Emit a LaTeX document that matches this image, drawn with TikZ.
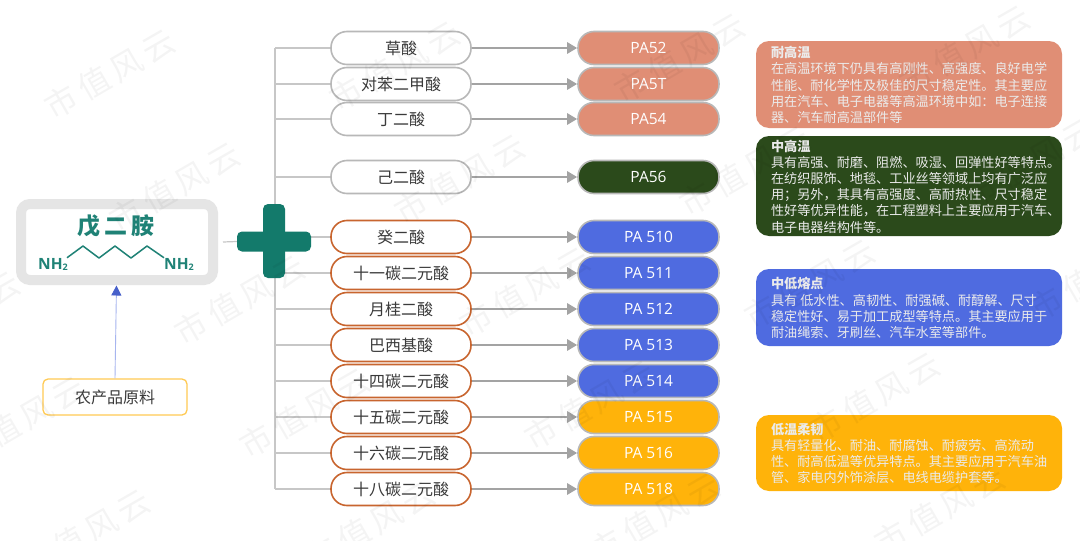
\documentclass[tikz,border=0pt]{standalone}
\usepackage{fontspec}
\setmainfont{Noto Sans CJK SC}
\newfontfamily\pafont{Open Sans}
\usetikzlibrary{arrows.meta}
\definecolor{salmon}{HTML}{E08E75}
\definecolor{forest}{HTML}{2B4A1B}
\definecolor{azure}{HTML}{4F6BE0}
\definecolor{amber}{HTML}{FFB30A}
\definecolor{teal1}{HTML}{137A6B}
\definecolor{teal2}{HTML}{1F8276}
\definecolor{edgegray}{HTML}{B8B8B8}
\definecolor{rust}{HTML}{C8652F}
\definecolor{txt}{HTML}{3A3A3A}
\tikzset{
  x=1pt,y=-1pt,
  acid/.style={draw=edgegray,line width=1.6pt,fill=white,rounded corners=16pt,minimum width=140pt,minimum height=33pt,inner sep=0pt,text=txt,font=\fontsize{16}{18}\selectfont},
  acidb/.style={acid,draw=rust},
  pa/.style={draw=edgegray,line width=1.6pt,rounded corners=16pt,minimum width=141pt,minimum height=33pt,inner sep=0pt,text=white,font=\pafont\fontsize{15.5}{18}\selectfont},
  info/.style={rounded corners=13pt,minimum width=306pt,inner sep=0pt},
  infotext/.style={align=left,inner sep=0pt,anchor=west,xshift=15pt,yshift=-0.5pt,text=white!92!black,font=\fontsize{13.15}{16.2}\selectfont},
  branch/.style={draw=black!22,line width=1.2pt},
  flow/.style={draw=black!36,line width=2.8pt,-{Triangle[length=10pt,width=11pt]}},
  wm/.style={rotate=30,text=black,opacity=0.045,font=\fontsize{32}{34}\selectfont,inner sep=0pt},
}
\newcommand{\wmark}[3]{\node[wm] (#1) at (#2+55,#3-26) {市\,值\,风\,云};}
\begin{document}
\begin{tikzpicture}
\useasboundingbox (0,0) rectangle (1080,541);
\fill[white] (0,0) rectangle (1080,541);

% trunk
\coordinate (tktop) at (275,48);
\coordinate (tkbot) at (275,489);
\draw[branch] (tktop) -- (tkbot);

% acids and products
\node[acid] (a1) at (401,48) {草酸};
\node[acid] (a2) at (401,84) {对苯二甲酸};
\node[acid] (a3) at (401,119) {丁二酸};
\node[acid] (a4) at (401,177) {己二酸};
\node[acidb] (a5) at (401,237) {癸二酸};
\node[acidb] (a6) at (401,273) {十一碳二元酸};
\node[acidb] (a7) at (401,309) {月桂二酸};
\node[acidb] (a8) at (401,345) {巴西基酸};
\node[acidb] (a9) at (401,381) {十四碳二元酸};
\node[acidb] (a10) at (401,417) {十五碳二元酸};
\node[acidb] (a11) at (401,453) {十六碳二元酸};
\node[acidb] (a12) at (401,489) {十八碳二元酸};

\node[pa,fill=salmon] (p1) at (648.5,48) {PA52};
\node[pa,fill=salmon] (p2) at (648.5,84) {PA5T};
\node[pa,fill=salmon] (p3) at (648.5,119) {PA54};
\node[pa,fill=forest] (p4) at (648.5,177) {PA56};
\node[pa,fill=azure] (p5) at (648.5,237) {PA 510};
\node[pa,fill=azure] (p6) at (648.5,273) {PA 511};
\node[pa,fill=azure] (p7) at (648.5,309) {PA 512};
\node[pa,fill=azure] (p8) at (648.5,345) {PA 513};
\node[pa,fill=azure] (p9) at (648.5,381) {PA 514};
\node[pa,fill=amber] (p10) at (648.5,417) {PA 515};
\node[pa,fill=amber] (p11) at (648.5,453) {PA 516};
\node[pa,fill=amber] (p12) at (648.5,489) {PA 518};

\foreach \i in {1,...,12}{
  \draw[branch] (tktop |- a\i.west) -- (a\i.west);
  \draw[flow] (a\i.east) -- (p\i.west);
}

% main box
\node[draw=black!10,line width=10pt,rounded corners=9pt,minimum width=192pt,minimum height=76pt,inner sep=0pt,fill=white] (main) at (117,242) {};
\node[text=teal2,font=\bfseries\fontsize{23}{25}\selectfont,inner sep=0pt] (title) at (116,226) {戊\,二\,胺};
\node[text=teal2,font=\pafont\bfseries\fontsize{15.5}{15}\selectfont,inner sep=0pt] (nl) at (53,264) {NH\raisebox{-1pt}{\fontsize{9}{9}\selectfont 2}};
\node[text=teal2,font=\pafont\bfseries\fontsize{15.5}{15}\selectfont,inner sep=0pt] (nr) at (179,264) {NH\raisebox{-1pt}{\fontsize{9}{9}\selectfont 2}};
\draw[teal2,line width=1.5pt,line join=round] (nl.north east) ++(-1,0) -- (83,246) -- (99,258) -- (115,246) -- (131,258) -- (147,246) -- (nr.north west);

% plus
\node[fill=teal1,rounded corners=5pt,minimum width=22pt,minimum height=74pt,inner sep=0pt] (plusv) at (274,241) {};
\node[fill=teal1,rounded corners=5pt,minimum width=74pt,minimum height=20pt,inner sep=0pt] (plush) at (274,241.5) {};
\draw[branch] (main.east) ++(5,0) -- (plush.west);

% raw material
\node[draw=amber!70,line width=1.3pt,rounded corners=5pt,minimum width=144pt,minimum height=36pt,inner sep=0pt,fill=white,text=txt,font=\fontsize{16}{18}\selectfont] (raw) at (115,397) {农产品原料};
\draw[draw=azure!50,line width=0.9pt,-{Triangle[length=10pt,width=10pt,color=azure!90!black]}] (raw.north) -- (116.5,285.5);

% info boxes
\node[info,fill=salmon,minimum height=87pt] (i1) at (909,84.5) {};
\node[infotext] (t1) at (i1.west) {{\bfseries 耐高温}\\在高温环境下仍具有高刚性、高强度、良好电学\\性能、耐化学性及极佳的尺寸稳定性。其主要应\\用在汽车、电子电器等高温环境中如：电子连接\\器、汽车耐高温部件等};
\node[info,fill=forest,minimum height=100pt] (i2) at (909,186) {};
\node[infotext] (t2) at (i2.west) {{\bfseries 中高温}\\具有高强、耐磨、阻燃、吸湿、回弹性好等特点。\\在纺织服饰、地毯、工业丝等领域上均有广泛应\\用；另外，其具有高强度、高耐热性、尺寸稳定\\性好等优异性能，在工程塑料上主要应用于汽车、\\电子电器结构件等。};
\node[info,fill=azure,minimum height=77pt] (i3) at (909,307.5) {};
\node[infotext] (t3) at (i3.west) {{\bfseries 中低熔点}\\具有 低水性、高韧性、耐强碱、耐醇解、尺寸\\稳定性好、易于加工成型等特点。其主要应用于\\耐油绳索、牙刷丝、汽车水室等部件。};
\node[info,fill=amber,minimum height=76pt] (i4) at (909,453) {};
\node[infotext] (t4) at (i4.west) {{\bfseries 低温柔韧}\\具有轻量化、耐油、耐腐蚀、耐疲劳、高流动\\性、耐高低温等优异特点。其主要应用于汽车油\\管、家电内外饰涂层、电线电缆护套等。};

% watermark
\wmark{w1}{55}{100}\wmark{w2}{340}{92}\wmark{w3}{625}{84}\wmark{w4}{910}{76}
\wmark{w5}{120}{213}\wmark{w6}{405}{205}\wmark{w7}{690}{197}\wmark{w8}{975}{189}
\wmark{w9}{-100}{342}\wmark{w10}{185}{326}\wmark{w11}{470}{318}\wmark{w12}{755}{310}\wmark{w13}{1040}{302}
\wmark{w14}{-35}{447}\wmark{w15}{250}{439}\wmark{w16}{535}{431}\wmark{w17}{820}{423}
\wmark{w18}{30}{560}\wmark{w19}{315}{552}\wmark{w20}{600}{544}\wmark{w21}{885}{536}
\end{tikzpicture}
\end{document}
